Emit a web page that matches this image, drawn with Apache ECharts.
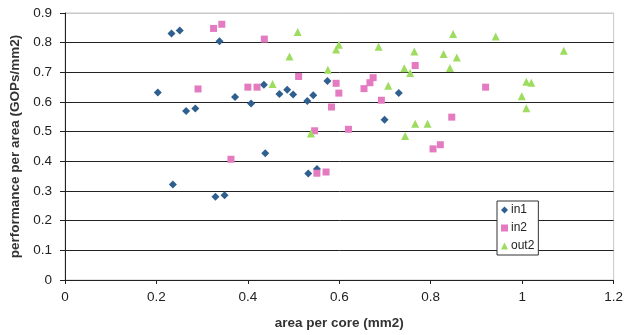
<!DOCTYPE html>
<html><head><meta charset="utf-8">
<script src="https://cdn.jsdelivr.net/npm/echarts@6/dist/echarts.min.js"></script>
<style>html,body{margin:0;padding:0;background:#fff}#c{width:626px;height:335px}</style>
</head><body><div id="c"></div>
<script>
const xTicks = [0, 0.2, 0.4, 0.6, 0.8, 1, 1.2];
const yTicks = [0, 0.1, 0.2, 0.3, 0.4, 0.5, 0.6, 0.7, 0.8, 0.9];
const seriesNames = ['in1', 'in2', 'out2'];
const in1 = [
  [0.233,0.831],[0.251,0.841],[0.338,0.805],[0.203,0.632],[0.265,0.570],[0.285,0.578],
  [0.372,0.617],[0.407,0.595],[0.435,0.658],[0.469,0.627],[0.486,0.641],[0.499,0.625],
  [0.530,0.603],[0.543,0.623],[0.574,0.671],[0.730,0.630],[0.699,0.540],[0.438,0.427],
  [0.532,0.359],[0.551,0.374],[0.236,0.322],[0.329,0.281],[0.349,0.286]
];
const in2 = [
  [0.325,0.848],[0.343,0.862],[0.291,0.644],[0.400,0.650],[0.420,0.650],[0.436,0.812],
  [0.511,0.686],[0.593,0.663],[0.674,0.682],[0.667,0.665],[0.654,0.645],[0.599,0.630],
  [0.766,0.723],[0.583,0.583],[0.692,0.606],[0.546,0.503],[0.620,0.508],[0.805,0.442],
  [0.821,0.456],[0.920,0.650],[0.846,0.549],[0.363,0.407],[0.551,0.360],[0.571,0.364]
];
const out2 = [
  [0.509,0.836],[0.599,0.793],[0.593,0.777],[0.491,0.753],[0.686,0.786],[0.764,0.770],
  [0.828,0.762],[0.575,0.709],[0.454,0.661],[0.707,0.655],[0.742,0.714],[0.755,0.698],
  [0.766,0.527],[0.793,0.527],[0.538,0.494],[0.744,0.485],[0.849,0.829],[0.942,0.821],
  [1.091,0.773],[0.857,0.750],[0.842,0.715],[1.009,0.668],[1.020,0.665],[0.999,0.619],
  [1.009,0.579]
];

const colors = ['#2f5f8f', '#e47ac0', '#9ddc5e'];
const symbols = ['diamond', 'rect', 'triangle'];
const sizes = [8, 7, 8];
const datasets = [in1, in2, out2];
const font = 'Liberation Sans, Arial, sans-serif';

const chart = echarts.init(document.getElementById('c'), null, {renderer: 'canvas'});
chart.setOption({
  animation: false,
  backgroundColor: '#fff',
  grid: {left: 65, right: 9, top: 13, bottom: 54, show: true, borderColor: '#c8c8c8', borderWidth: 1},
  legend: {
    left: 497, top: 201, orient: 'vertical', itemGap: 6,
    padding: [3, 4, 3, 4], borderColor: '#333', borderWidth: 1, backgroundColor: '#fff',
    itemWidth: 7, itemHeight: 7,
    textStyle: {fontFamily: font, fontSize: 12, color: '#222', padding: [0,0,0,-2]},
    data: seriesNames.map((n, i) => ({name: n, icon: symbols[i]}))
  },
  xAxis: {
    type: 'value', min: xTicks[0], max: xTicks[xTicks.length-1], interval: 0.2,
    name: 'area per core (mm2)', nameLocation: 'middle', nameGap: 36,
    nameTextStyle: {fontFamily: font, fontSize: 13.5, fontWeight: 'bold', color: '#333'},
    axisLine: {lineStyle: {color: '#222', width: 1}},
    axisTick: {show: true, length: 4, lineStyle: {color: '#222'}},
    axisLabel: {fontFamily: font, fontSize: 13.5, color: '#222', margin: 10,
      formatter: v => String(+v.toFixed(1))},
    splitLine: {show: false}
  },
  yAxis: {
    type: 'value', min: yTicks[0], max: yTicks[yTicks.length-1], interval: 0.1,
    name: 'performance per area (GOPs/mm2)', nameLocation: 'middle', nameGap: 40,
    nameTextStyle: {fontFamily: font, fontSize: 13.5, fontWeight: 'bold', color: '#333'},
    axisLine: {show: true, lineStyle: {color: '#222', width: 1}},
    axisTick: {show: true, length: 5, lineStyle: {color: '#222'}},
    axisLabel: {fontFamily: font, fontSize: 13.5, color: '#222', margin: 13,
      formatter: v => String(+v.toFixed(1))},
    splitLine: {show: true, lineStyle: {color: ['#222','#222','#222','#222','#222','#222','#222','#222','#222','#c8c8c8'], width: 1}}
  },
  series: datasets.map((d, i) => ({
    name: seriesNames[i], type: 'scatter', data: d,
    symbol: symbols[i], symbolSize: sizes[i],
    itemStyle: {color: colors[i], opacity: 1}
  }))
});
</script></body></html>
